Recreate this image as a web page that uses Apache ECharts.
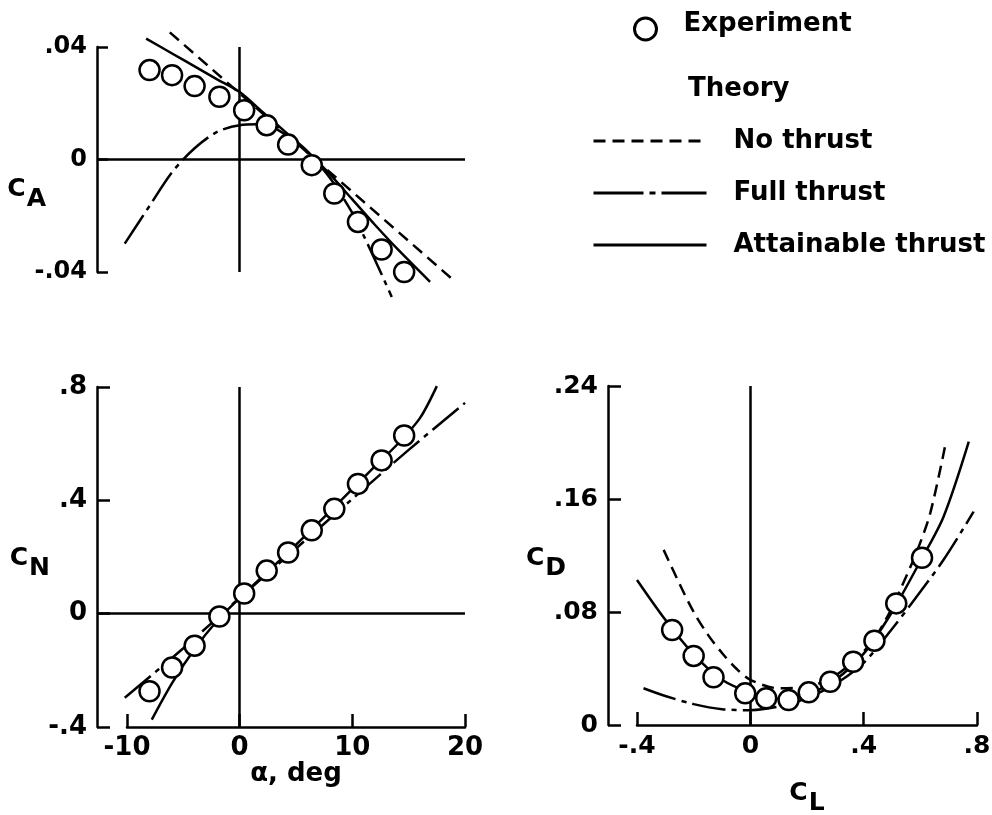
<!DOCTYPE html>
<html>
<head>
<meta charset="utf-8">
<script src="https://cdn.jsdelivr.net/npm/echarts@6/dist/echarts.min.js"></script>
<style>
  html, body { margin: 0; padding: 0; background: #fff; }
  #chart { width: 992px; height: 815px; }
</style>
</head>
<body>
<div id="chart"></div>
<script>
// ---- Experiment (circles) ----
const alphaExp = [-8, -6, -4, -1.8, 0.4, 2.4, 4.3, 6.4, 8.4, 10.5, 12.6, 14.6];
const caExp    = [0.0318, 0.0300, 0.0261, 0.0223, 0.0175, 0.0122, 0.0053, -0.0020, -0.0121, -0.0222, -0.0320, -0.0400];
const cnExp    = [-0.274, -0.190, -0.113, -0.010, 0.071, 0.152, 0.216, 0.294, 0.370, 0.458, 0.541, 0.629];
const clExp    = [-0.276, -0.200, -0.130, -0.018, 0.056, 0.135, 0.206, 0.282, 0.363, 0.438, 0.515, 0.606];
const cdExp    = [0.0673, 0.0489, 0.0338, 0.0224, 0.0189, 0.0177, 0.0231, 0.0306, 0.0448, 0.0597, 0.0861, 0.1184];

// ---- Theory: axial force ----
const caNoThrustAlpha = [-6.2, 18.8];
const caNoThrust      = [0.0452, -0.0423];
const caFullAlpha = [-10.2, -8, -6, -4, -2, 0, 2, 4, 6, 8, 10, 11, 12.3, 13.5];
const caFull      = [-0.0299, -0.0165, -0.0045, 0.0040, 0.0098, 0.0122, 0.0125, 0.0090, 0.0025, -0.0065, -0.0190, -0.0270, -0.0382, -0.0489];
const caAttAlpha = [-8.3, -6, -4, -2, 0, 2, 4, 6, 8, 10, 12, 14, 16.9];
const caAtt      = [0.0430, 0.0377, 0.0331, 0.0285, 0.0240, 0.0170, 0.0100, 0.0030, -0.0052, -0.0142, -0.0232, -0.0318, -0.0435];

// ---- Theory: normal force ----
const cnFullAlpha = [-10.2, -5, 0, 5, 10, 15, 20];
const cnFull      = [-0.297, -0.122, 0.056, 0.230, 0.405, 0.578, 0.744];
const cnAttAlpha = [-7.8, -6, -4, -2, 0, 4, 8, 12, 14, 16, 17.5];
const cnAtt      = [-0.374, -0.245, -0.125, -0.025, 0.055, 0.205, 0.360, 0.520, 0.598, 0.690, 0.803];

// ---- Theory: drag polar ----
const cdNoThrustCL = [-0.306, -0.25, -0.2, -0.15, -0.1, -0.05, 0, 0.1, 0.2, 0.3, 0.4, 0.45, 0.5, 0.53, 0.588, 0.635, 0.688];
const cdNoThrust   = [0.124, 0.100, 0.080, 0.064, 0.051, 0.040, 0.032, 0.026, 0.027, 0.035, 0.052, 0.065, 0.083, 0.096, 0.123, 0.150, 0.198];
const cdFullCL = [-0.377, -0.3, -0.2, -0.1, 0, 0.1, 0.2, 0.3, 0.4, 0.5, 0.565, 0.682, 0.788];
const cdFull   = [0.026, 0.0205, 0.0148, 0.0112, 0.0105, 0.013, 0.019, 0.029, 0.044, 0.068, 0.085, 0.117, 0.151];
const cdAttCL = [-0.4, -0.3, -0.2, -0.1, 0, 0.1, 0.2, 0.3, 0.4, 0.5, 0.6, 0.682, 0.771];
const cdAtt   = [0.1027, 0.0745, 0.0500, 0.0320, 0.0230, 0.0185, 0.0215, 0.0320, 0.0505, 0.0800, 0.1160, 0.1475, 0.2006];

// ---- Axis ranges and tick labels ----
const alphaRange = [-10, 20];
const alphaTicks = ['-10', '0', '10', '20'];
const caRange = [-0.04, 0.04];
const cnRange = [-0.4, 0.8];
const clRange = [-0.4, 0.8];
const cdRange = [0, 0.24];

const FONT = 'DejaVu Sans';
const INK = '#000';
const LW = 2.5;
const DASH = [12, 7];
const DASH_DOT = [34, 6, 5, 6];

const zip = (xs, ys) => xs.map((x, i) => [x, ys[i]]);
const shortNum = v => {
  if (Math.abs(v) < 1e-12) return '0';
  const s = parseFloat(Math.abs(v).toFixed(4)).toString().replace(/^0\./, '.');
  return (v < 0 ? '-' : '') + s;
};

// Left plots: the alpha scale runs from -10 to 20, the C_A / C_N axes stand a
// little to the left of alpha = -10 and the zero lines start from them.
const alphaAxisBox = { left: 127, width: 338 };
const yAxisGap = 30;
const plotBox = { left: alphaAxisBox.left - yAxisGap, width: alphaAxisBox.width + yAxisGap };
const alphaStart = alphaRange[0] - yAxisGap * (alphaRange[1] - alphaRange[0]) / alphaAxisBox.width;

const lineAxis = { show: true, onZero: false, lineStyle: { color: INK, width: LW } };
const tickStyle = len => ({ show: true, inside: true, length: len, lineStyle: { color: INK, width: LW } });
const labelStyle = (size, fmt, margin) => ({ color: INK, fontFamily: FONT, fontWeight: 'bold', fontSize: size, margin: margin || 10, formatter: fmt });
const subName = (main, sub) => `{c|${main}}{s|${sub}}`;
const subRich = {
  c: { fontFamily: FONT, fontWeight: 'bold', fontSize: 25, color: INK, padding: [0, 1, 10, 0] },
  s: { fontFamily: FONT, fontWeight: 'bold', fontSize: 25, color: INK, padding: [10, 0, 0, 0] }
};
const legendText = (extra) => ({
  rich: { t: Object.assign({ fontFamily: FONT, fontWeight: 'bold', fontSize: 26, color: INK }, extra) }
});

const theoryLine = (name, xi, data, type, smooth) => ({
  type: 'line', name, xAxisIndex: xi, yAxisIndex: xi, data,
  symbol: 'none', smooth: smooth ? 0.3 : false, clip: false, silent: true, z: 2,
  lineStyle: { color: INK, width: LW, type }
});
const expPoints = (xi, data) => ({
  type: 'scatter', name: 'Experiment', xAxisIndex: xi, yAxisIndex: xi, data,
  symbol: 'circle', symbolSize: 20, z: 5, silent: true,
  itemStyle: { color: '#fff', borderColor: INK, borderWidth: LW, opacity: 1 }
});
// Reference lines through the origin of each plot
const crossLines = (xi, withHorizontal) => ({
  type: 'line', xAxisIndex: xi, yAxisIndex: xi, data: [],
  symbol: 'none', silent: true, z: 1,
  markLine: {
    silent: true, symbol: 'none', label: { show: false },
    lineStyle: { color: INK, width: LW, type: 'solid' },
    data: withHorizontal ? [{ xAxis: 0 }, { yAxis: 0 }] : [{ xAxis: 0 }]
  }
});
const lineLegend = (name, top, type) => ({
  data: [name], left: 592, top, padding: 0, itemWidth: 113, itemHeight: 30, selectedMode: false,
  itemStyle: { color: 'rgba(0,0,0,0)', borderWidth: 0, opacity: 0 },
  lineStyle: { width: 3, type },
  formatter: n => `{t|${n}}`,
  textStyle: legendText({ lineHeight: 30, padding: [0, 0, 0, 22] })
});
const gridBox = (left, width, top, height) => ({ left, width, top, height, containLabel: false, outerBoundsMode: 'none' });

const option = {
  animation: false,
  backgroundColor: '#fff',
  title: {
    text: 'Theory', left: 688, top: 76, padding: 0,
    textStyle: { fontFamily: FONT, fontWeight: 'bold', fontSize: 26, color: INK }
  },
  legend: [
    {
      data: ['Experiment'], left: 633, top: 11, padding: 0,
      itemWidth: 22, itemHeight: 22, selectedMode: false,
      itemStyle: { color: '#fff', borderColor: INK, borderWidth: 3 },
      formatter: n => `{t|${n}}`,
      textStyle: legendText({ padding: [0, 0, 10, 22] })
    },
    lineLegend('No thrust', 128, DASH),
    lineLegend('Full thrust', 180, [50, 6, 6, 6]),
    lineLegend('Attainable thrust', 232, 'solid')
  ],
  grid: [
    gridBox(plotBox.left, plotBox.width, 47, 225),
    gridBox(plotBox.left, plotBox.width, 387, 340),
    gridBox(637, 340, 386, 339),
    gridBox(alphaAxisBox.left, alphaAxisBox.width, 387, 340)
  ],
  xAxis: [
    { gridIndex: 0, type: 'value', min: alphaStart, max: alphaRange[1], show: false },
    { gridIndex: 1, type: 'value', min: alphaStart, max: alphaRange[1], show: false },
    {
      gridIndex: 2, type: 'value', min: clRange[0], max: clRange[1], interval: 0.4,
      axisLine: lineAxis, axisTick: tickStyle(13), splitLine: { show: false },
      axisLabel: labelStyle(25, shortNum, 9),
      name: subName('C', 'L'), nameLocation: 'middle', nameGap: 56, nameMoveOverlap: false,
      nameTextStyle: { rich: subRich }
    },
    {
      gridIndex: 3, type: 'value', min: alphaRange[0], max: alphaRange[1], interval: 10,
      axisLine: lineAxis, axisTick: tickStyle(13), splitLine: { show: false },
      axisLabel: labelStyle(26, v => alphaTicks[Math.round((v - alphaRange[0]) / 10)], 8),
      name: 'α, deg', nameLocation: 'middle', nameGap: 34, nameMoveOverlap: false,
      nameTextStyle: { fontFamily: FONT, fontWeight: 'bold', fontSize: 26, color: INK, verticalAlign: 'top' }
    }
  ],
  yAxis: [
    {
      gridIndex: 0, type: 'value', min: caRange[0], max: caRange[1], interval: 0.04,
      axisLine: lineAxis, axisTick: tickStyle(11), splitLine: { show: false },
      axisLabel: labelStyle(24, shortNum, 10),
      name: subName('C', 'A'), nameLocation: 'middle', nameRotate: 0, nameGap: 51, nameMoveOverlap: false,
      nameTextStyle: { rich: subRich, padding: [70, 0, 0, 0] }
    },
    {
      gridIndex: 1, type: 'value', min: cnRange[0], max: cnRange[1], interval: 0.4,
      axisLine: lineAxis, axisTick: tickStyle(13), splitLine: { show: false },
      axisLabel: labelStyle(26, shortNum, 10),
      name: subName('C', 'N'), nameLocation: 'middle', nameRotate: 0, nameGap: 47, nameMoveOverlap: false,
      nameTextStyle: { rich: subRich, padding: [12, 0, 0, 0] }
    },
    {
      gridIndex: 2, type: 'value', min: cdRange[0], max: cdRange[1], interval: 0.08, offset: 29,
      axisLine: lineAxis, axisTick: tickStyle(13), splitLine: { show: false },
      axisLabel: labelStyle(25, shortNum, 10),
      name: subName('C', 'D'), nameLocation: 'middle', nameRotate: 0, nameGap: 42, nameMoveOverlap: false,
      nameTextStyle: { rich: subRich, padding: [16, 0, 0, 0] }
    },
    { gridIndex: 3, type: 'value', min: cnRange[0], max: cnRange[1], show: false }
  ],
  series: [
    // axial force
    crossLines(0, true),
    theoryLine('No thrust', 0, zip(caNoThrustAlpha, caNoThrust), DASH, false),
    theoryLine('Full thrust', 0, zip(caFullAlpha, caFull), DASH_DOT, true),
    theoryLine('Attainable thrust', 0, zip(caAttAlpha, caAtt), 'solid', true),
    expPoints(0, zip(alphaExp, caExp)),
    // normal force
    crossLines(1, true),
    theoryLine('Full thrust', 1, zip(cnFullAlpha, cnFull), DASH_DOT, true),
    theoryLine('Attainable thrust', 1, zip(cnAttAlpha, cnAtt), 'solid', true),
    expPoints(1, zip(alphaExp, cnExp)),
    // drag polar
    crossLines(2, false),
    theoryLine('No thrust', 2, zip(cdNoThrustCL, cdNoThrust), DASH, true),
    theoryLine('Full thrust', 2, zip(cdFullCL, cdFull), DASH_DOT, true),
    theoryLine('Attainable thrust', 2, zip(cdAttCL, cdAtt), 'solid', true),
    expPoints(2, zip(clExp, cdExp))
  ]
};

const chart = echarts.init(document.getElementById('chart'));
chart.setOption(option);
</script>
</body>
</html>
